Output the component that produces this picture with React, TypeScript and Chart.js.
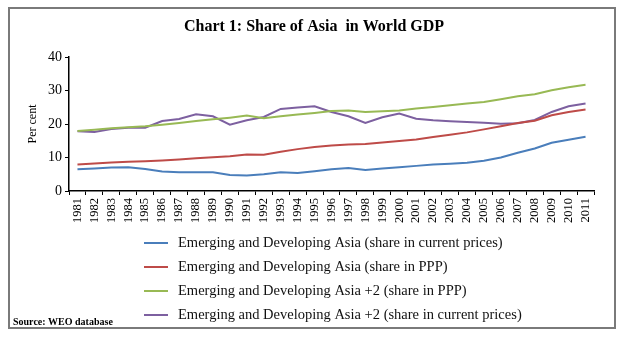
import React, { useEffect, useRef } from "react";
import { Chart, registerables } from "chart.js";

Chart.register(...registerables);

const years: string[] = [
  "1981","1982","1983","1984","1985","1986","1987","1988","1989","1990",
  "1991","1992","1993","1994","1995","1996","1997","1998","1999","2000",
  "2001","2002","2003","2004","2005","2006","2007","2008","2009","2010","2011",
];

const edaCurrent: number[] = [
  6.5, 6.7, 7.0, 7.1, 6.6, 5.8, 5.6, 5.6, 5.6, 4.8,
  4.6, 5.0, 5.6, 5.4, 5.9, 6.5, 6.9, 6.3, 6.7, 7.1,
  7.5, 7.9, 8.1, 8.4, 9.0, 10.0, 11.4, 12.7, 14.4, 15.3, 16.2,
];

const edaPPP: number[] = [
  7.9, 8.2, 8.5, 8.7, 8.9, 9.1, 9.4, 9.8, 10.1, 10.4,
  10.9, 10.8, 11.7, 12.5, 13.1, 13.6, 13.9, 14.0, 14.5, 14.9,
  15.4, 16.1, 16.8, 17.5, 18.4, 19.3, 20.3, 21.0, 22.6, 23.6, 24.3,
];

const eda2PPP: number[] = [
  17.9, 18.3, 18.7, 19.0, 19.3, 19.8, 20.3, 20.9, 21.4, 21.9,
  22.5, 21.7, 22.3, 22.8, 23.3, 23.9, 24.0, 23.6, 23.8, 24.0,
  24.6, 25.1, 25.6, 26.1, 26.6, 27.4, 28.3, 28.9, 30.1, 31.0, 31.7,
];

const eda2Current: number[] = [
  17.8, 17.6, 18.5, 18.9, 18.9, 20.9, 21.5, 22.9, 22.3, 19.8,
  21.1, 22.1, 24.5, 24.9, 25.3, 23.6, 22.3, 20.3, 22.0, 23.1,
  21.6, 21.1, 20.8, 20.6, 20.4, 20.1, 20.2, 21.2, 23.6, 25.3, 26.1,
];

const seriesLabels: string[] = [
  "Emerging and Developing Asia (share in current prices)",
  "Emerging and Developing Asia (share in PPP)",
  "Emerging and Developing Asia +2 (share in PPP)",
  "Emerging and Developing Asia +2 (share in current prices)",
];

const seriesColors: string[] = ["#4a7ebb", "#be4b48", "#98b954", "#7d60a0"];

const titleText = "Chart 1: Share of Asia  in World GDP";
const sourceText = "Source: WEO database";
const yTitle = "Per cent";

const SERIF = "'Liberation Serif', 'Times New Roman', serif";

const decorPlugin = {
  id: "decor",
  afterDraw(chart: any) {
    const ctx = chart.ctx as CanvasRenderingContext2D;
    ctx.save();
    // frame
    ctx.strokeStyle = "#7a7a7a";
    ctx.lineWidth = 2;
    ctx.strokeRect(9, 8, 606, 320);
    // title
    ctx.fillStyle = "#000";
    ctx.font = `bold 16px ${SERIF}`;
    ctx.textAlign = "center";
    ctx.textBaseline = "middle";
    ctx.fillText(titleText, 314, 27);
    // legend
    ctx.font = `14.5px ${SERIF}`;
    ctx.textAlign = "left";
    const rows = [243, 267, 291, 315];
    chart.data.datasets.forEach((ds: any, i: number) => {
      const y = rows[i];
      ctx.strokeStyle = ds.borderColor;
      ctx.lineWidth = 2;
      ctx.beginPath();
      ctx.moveTo(144, y);
      ctx.lineTo(168, y);
      ctx.stroke();
      ctx.fillStyle = "#111";
      ctx.fillText(ds.label, 178, y);
    });
    // source
    ctx.font = `bold 10px ${SERIF}`;
    ctx.fillStyle = "#000";
    ctx.fillText(sourceText, 13, 322);
    ctx.restore();
  },
};

export default function App() {
  const ref = useRef<HTMLCanvasElement | null>(null);

  useEffect(() => {
    document.body.style.margin = "0";
    const canvas = ref.current;
    if (!canvas) return;
    const series = [edaCurrent, edaPPP, eda2PPP, eda2Current];
    const chart = new Chart(canvas, {
      type: "line",
      data: {
        labels: years,
        datasets: series.map((d, i) => ({
          label: seriesLabels[i],
          data: d,
          borderColor: seriesColors[i],
          backgroundColor: seriesColors[i],
          borderWidth: 2,
          pointRadius: 0,
          tension: 0,
          fill: false,
        })),
      },
      options: {
        responsive: false,
        animation: false,
        devicePixelRatio: 1,
        layout: { padding: { left: 26, right: 31, top: 57, bottom: 0 } },
        plugins: {
          legend: { display: false },
          title: { display: false },
          tooltip: { enabled: false },
        },
        scales: {
          x: {
            type: "category",
            offset: true,
            grid: {
              display: true,
              drawOnChartArea: false,
              drawTicks: true,
              tickLength: 4,
              color: "#000",
              offset: true,
            },
            border: { color: "#000", width: 1.5 },
            ticks: {
              autoSkip: false,
              minRotation: 90,
              maxRotation: 90,
              color: "#000",
              padding: 3,
              font: { family: SERIF, size: 12.5 },
            },
            afterFit(scale: any) {
              scale.height = 155;
            },
          },
          y: {
            min: 0,
            max: 40,
            ticks: {
              stepSize: 10,
              color: "#000",
              padding: 3,
              font: { family: SERIF, size: 14 },
            },
            grid: {
              display: true,
              drawOnChartArea: false,
              drawTicks: true,
              tickLength: 4,
              color: "#000",
            },
            border: { color: "#000", width: 1.5 },
            title: {
              display: true,
              text: yTitle,
              color: "#000",
              padding: 0,
              font: { family: SERIF, size: 12 },
            },
            afterFit(scale: any) {
              scale.width = 43;
            },
          },
        },
      },
      plugins: [decorPlugin],
    });
    return () => chart.destroy();
  }, []);

  return (
    <div style={{ width: 625, height: 346, background: "#fff" }}>
      <canvas ref={ref} width={625} height={346} style={{ display: "block" }} />
    </div>
  );
}
